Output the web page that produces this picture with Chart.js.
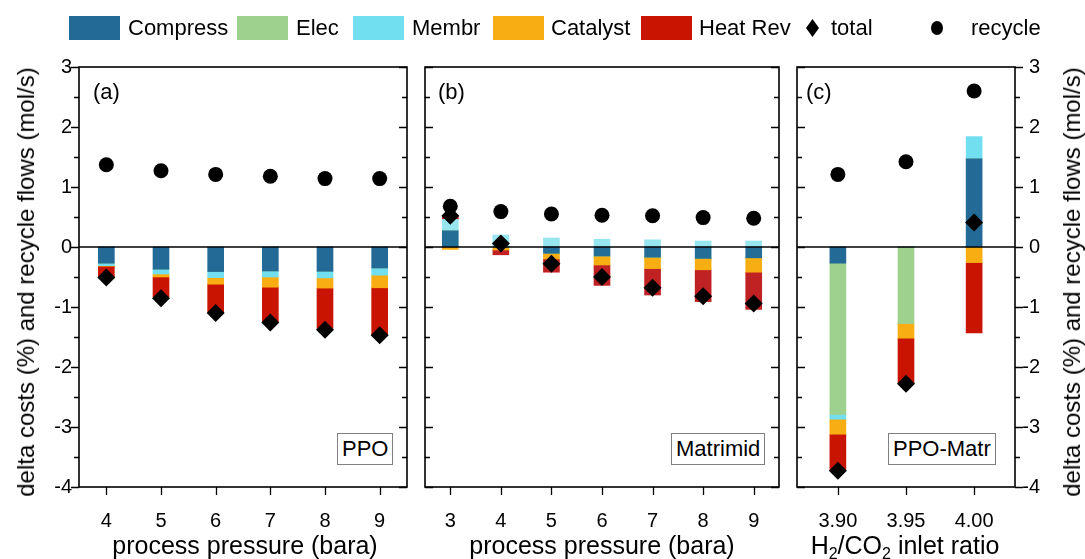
<!DOCTYPE html>
<html>
<head>
<meta charset="utf-8">
<title>delta costs and recycle flows</title>
<script src="https://cdn.jsdelivr.net/npm/chart.js@4.4.0/dist/chart.umd.min.js"></script>
<style>
  body { margin: 0; background: #fff; }
  #page { position: relative; width: 1085px; height: 559px; overflow: hidden;
          font-family: "Liberation Sans", Arial, sans-serif; color: #000; }
  #page canvas { position: absolute; top: 0; }
  .box { position: absolute; top: 16px; width: 51px; height: 24px; }
  .leg { position: absolute; top: 16px; height: 24px; line-height: 24px; font-size: 22px; white-space: nowrap; }
  .dia { position: absolute; top: 19px; width: 13px; height: 18px; background: #000;
         clip-path: polygon(50% 0, 100% 50%, 50% 100%, 0 50%); }
  .dot { position: absolute; top: 21px; width: 12px; height: 14px; border-radius: 50%; background: #000; }
  .xtitle { position: absolute; top: 530px; font-size: 25px; line-height: 30px; white-space: nowrap; transform: translateX(-50%); }
  .xtitle sub { font-size: 16px; vertical-align: -0.3em; line-height: 0; }
  .ytitle { position: absolute; top: 282px; font-size: 24px; white-space: nowrap; transform: translate(-50%, -50%) rotate(-90deg); }
  .tag { position: absolute; top: 79px; font-size: 22px; line-height: 26px; }
  .name { position: absolute; top: 433px; height: 30px; line-height: 30px; font-size: 22px; padding: 0 4px;
          border: 1px solid #808080; background: #fff; }
</style>
</head>
<body>
<div id="page">
  <canvas id="chartA" width="416" height="559" style="left:0"></canvas>
  <canvas id="chartB" width="372" height="559" style="left:416px"></canvas>
  <canvas id="chartC" width="297" height="559" style="left:788px"></canvas>

  <div class="box" style="left:69px;background:#236b96"></div><div class="leg" style="left:128px">Compress</div>
  <div class="box" style="left:237px;background:#9fd18e"></div><div class="leg" style="left:296px">Elec</div>
  <div class="box" style="left:353px;background:#72dff0"></div><div class="leg" style="left:412px">Membr</div>
  <div class="box" style="left:493px;background:#f8ae13"></div><div class="leg" style="left:551px">Catalyst</div>
  <div class="box" style="left:641px;background:#c81400"></div><div class="leg" style="left:699px">Heat Rev</div>
  <div class="dia" style="left:806px"></div><div class="leg" style="left:831px">total</div>
  <div class="dot" style="left:931px"></div><div class="leg" style="left:971px">recycle</div>

  <div class="tag" style="left:93px">(a)</div>
  <div class="tag" style="left:438px">(b)</div>
  <div class="tag" style="left:806px">(c)</div>
  <div class="name" style="left:337px">PPO</div>
  <div class="name" style="left:671px">Matrimid</div>
  <div class="name" style="left:888px">PPO-Matr</div>

  <div class="ytitle" style="left:26px">delta costs (%) and recycle flows (mol/s)</div>
  <div class="ytitle" style="left:1072px">delta costs (%) and recycle flows (mol/s)</div>
  <div class="xtitle" style="left:245px">process pressure (bara)</div>
  <div class="xtitle" style="left:602px">process pressure (bara)</div>
  <div class="xtitle" style="left:905px">H<sub>2</sub>/CO<sub>2</sub> inlet ratio</div>
</div>

<script>
// (a) PPO membrane, pressure sweep
const pressA = [4, 5, 6, 7, 8, 9];
const compressA = [-0.27, -0.37, -0.41, -0.40, -0.405, -0.35];
const elecA = [0, 0, 0, 0, 0, 0];
const membrA = [-0.04, -0.08, -0.10, -0.10, -0.11, -0.12];
const catalystA = [-0.01, -0.05, -0.11, -0.17, -0.17, -0.21];
const heatA = [-0.19, -0.33, -0.47, -0.58, -0.67, -0.78];
const totalA = [-0.51, -0.855, -1.10, -1.26, -1.38, -1.47];
const recycleA = [1.37, 1.27, 1.21, 1.18, 1.14, 1.14];

// (b) Matrimid membrane, pressure sweep
const pressB = [3, 4, 5, 6, 7, 8, 9];
const compressB = [0.27, 0, -0.105, -0.15, -0.17, -0.19, -0.18];
const elecB = [0, 0, 0, 0, 0, 0, 0];
const membrB = [0.19, 0.20, 0.15, 0.13, 0.12, 0.10, 0.10];
const catalystB = [-0.04, -0.05, -0.095, -0.15, -0.19, -0.19, -0.24];
const heatB = [0.06, -0.08, -0.22, -0.34, -0.44, -0.53, -0.62];
const totalB = [0.52, 0.06, -0.28, -0.50, -0.68, -0.82, -0.94];
const recycleB = [0.68, 0.59, 0.55, 0.53, 0.52, 0.49, 0.48];

// (c) PPO-Matr, H2/CO2 inlet ratio sweep
const ratioC = [3.90, 3.95, 4.00];
const compressC = [-0.27, 0, 1.47];
const elecC = [-2.52, -1.27, 0];
const membrC = [-0.08, 0, 0.37];
const catalystC = [-0.25, -0.25, -0.26];
const heatC = [-0.60, -0.75, -1.17];
const totalC = [-3.73, -2.28, 0.41];
const recycleC = [1.21, 1.42, 2.60];

const yTicks = [-4, -3, -2, -1, 0, 1, 2, 3];
const costNames = ['Compress', 'Elec', 'Membr', 'Catalyst', 'Heat Rev'];
const costColors = ['#236b96', '#9fd18e', '#72dff0', '#f8ae13', '#c81400'];
const costColorsB = ['#236e96', '#9fd18e', '#97e5ee', '#f7ae13', '#c02123'];

const FONT = '"Liberation Sans", Arial, sans-serif';

// frame, zero line and in/out tick marks for each panel
const frameTicks = {
  id: 'frameTicks',
  beforeDatasetsDraw(chart) { chart.$zeroDone = false; },
  beforeDatasetDraw(chart, args) {
    // zero line goes over the bars but under the markers
    if (chart.$zeroDone || args.meta.type !== 'scatter') return;
    const {ctx, chartArea: a, scales: {y}} = chart;
    const y0 = y.getPixelForValue(0);
    ctx.save();
    ctx.strokeStyle = '#000';
    ctx.lineWidth = 1.5;
    ctx.beginPath();
    ctx.moveTo(a.left, y0);
    ctx.lineTo(a.right, y0);
    ctx.stroke();
    ctx.restore();
    chart.$zeroDone = true;
  },
  afterDraw(chart, args, opts) {
    const {ctx, chartArea: a, scales: {x, y}} = chart;
    ctx.save();
    ctx.strokeStyle = '#000';
    ctx.lineWidth = 1.6;
    ctx.strokeRect(a.left, a.top, a.right - a.left, a.bottom - a.top);
    ctx.lineWidth = 1.3;
    ctx.beginPath();
    for (let v = y.min; v <= y.max + 1e-9; v += 0.5) {
      const py = Math.round(y.getPixelForValue(v)) + 0.5;
      const len = Math.abs(v - Math.round(v)) < 1e-6 ? 8 : 5;
      const l = opts.left === 'out' ? -len : len;
      const r = opts.right === 'out' ? len : -len;
      ctx.moveTo(a.left, py); ctx.lineTo(a.left + l, py);
      ctx.moveTo(a.right, py); ctx.lineTo(a.right + r, py);
    }
    for (const t of x.ticks) {
      const px = Math.round(x.getPixelForValue(t.value)) + 0.5;
      ctx.moveTo(px, a.bottom); ctx.lineTo(px, a.bottom + 8);
    }
    ctx.stroke();
    ctx.restore();
  }
};

function costSets(xs, parts, colors) {
  return parts.map((vals, i) => ({
    label: costNames[i],
    type: 'bar',
    stack: 'cost',
    order: 1,
    data: xs.map((x, j) => ({x: x, y: vals[j]})),
    backgroundColor: colors[i],
    borderWidth: 0,
    barThickness: 16
  }));
}

function markerSets(xs, total, recycle) {
  return [
    {label: 'total', type: 'scatter', stack: 'total', order: 0,
     data: xs.map((x, j) => ({x: x, y: total[j]})),
     pointStyle: 'rectRot', pointRadius: 9, pointBackgroundColor: '#000', pointBorderWidth: 0},
    {label: 'recycle', type: 'scatter', stack: 'recycle', order: 0,
     data: xs.map((x, j) => ({x: x, y: recycle[j]})),
     pointStyle: 'circle', pointRadius: 7.5, pointBackgroundColor: '#000', pointBorderWidth: 0}
  ];
}

function makePanel(id, cfg) {
  return new Chart(document.getElementById(id), {
    type: 'bar',
    data: {datasets: [...markerSets(cfg.xs, cfg.total, cfg.recycle), ...costSets(cfg.xs, cfg.parts, cfg.colors)]},
    options: {
      responsive: false,
      animation: false,
      events: [],
      layout: {padding: cfg.pad},
      plugins: {legend: {display: false}, tooltip: {enabled: false}, frameTicks: cfg.ticks},
      scales: {
        x: {
          type: 'linear', stacked: true, offset: false,
          min: cfg.xMin, max: cfg.xMax,
          afterBuildTicks: s => { s.ticks = cfg.xs.map(v => ({value: v})); },
          afterFit: s => { s.height = 72; },
          grid: {display: false, drawTicks: false},
          border: {display: false},
          ticks: {autoSkip: false, maxRotation: 0, padding: 22, color: '#000',
                  font: {size: 20, family: FONT}, callback: cfg.fmt}
        },
        y: {
          stacked: true, min: -4, max: 3,
          display: cfg.yDisplay, position: cfg.yPos,
          afterBuildTicks: s => { s.ticks = yTicks.map(v => ({value: v})); },
          afterFit: s => { s.width = cfg.yWidth; },
          grid: {display: false, drawTicks: false},
          border: {display: false},
          ticks: {padding: cfg.yPad, crossAlign: cfg.cross, color: '#000',
                  font: {size: 20, family: FONT}}
        }
      }
    },
    plugins: [frameTicks]
  });
}

makePanel('chartA', {
  xs: pressA, xMin: 3.5, xMax: 9.5, fmt: v => String(v),
  parts: [compressA, elecA, membrA, catalystA, heatA], colors: costColors,
  total: totalA, recycle: recycleA,
  pad: {top: 67, left: 0, right: 6, bottom: 0},
  yDisplay: true, yPos: 'left', yWidth: 79, yPad: 7, cross: 'near',
  ticks: {left: 'out', right: 'in'}
});

makePanel('chartB', {
  xs: pressB, xMin: 2.5, xMax: 9.5, fmt: v => String(v),
  parts: [compressB, elecB, membrB, catalystB, heatB], colors: costColorsB,
  total: totalB, recycle: recycleB,
  pad: {top: 67, left: 6, right: 6, bottom: 0},
  yDisplay: false, yPos: 'left', yWidth: 0, yPad: 0, cross: 'near',
  ticks: {left: 'in', right: 'in'}
});

// right-hand axis: labels right-aligned just outside the frame
makePanel('chartC', {
  xs: ratioC, xMin: 3.87, xMax: 4.03, fmt: v => v.toFixed(2),
  parts: [compressC, elecC, membrC, catalystC, heatC], colors: costColors,
  total: totalC, recycle: recycleC,
  pad: {top: 67, left: 6, right: 45, bottom: 0},
  yDisplay: true, yPos: 'right', yWidth: 25, yPad: 7, cross: 'far',
  ticks: {left: 'in', right: 'out'}
});
</script>
</body>
</html>
